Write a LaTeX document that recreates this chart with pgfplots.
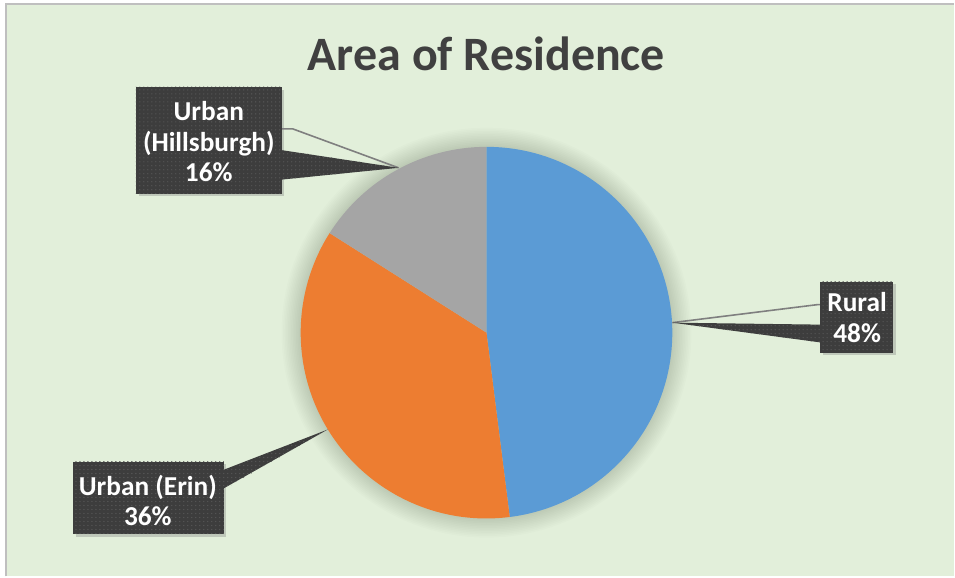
\documentclass[border=0pt]{standalone}
\usepackage{pgfplots}
\pgfplotsset{compat=1.18}
\usepackage{pgfplotstable}
\usepackage{fontspec}
\setmainfont{Carlito}
\usetikzlibrary{patterns,shadows}
\definecolor{bgc}{HTML}{E2EFDA}
\definecolor{bordc}{HTML}{BFBFBF}
\definecolor{cblue}{HTML}{5B9BD5}
\definecolor{corange}{HTML}{ED7D31}
\definecolor{cgray}{HTML}{A5A5A5}
\definecolor{boxc}{HTML}{3D3D3D}
\definecolor{dotc}{HTML}{585858}
\definecolor{titc}{HTML}{404040}
\definecolor{leadc}{HTML}{7F7F7F}

\pgfplotstableread{
label value
Rural 48
Erin 36
Hillsburgh 16
}\piedata
\pgfplotstablegetelem{0}{value}\of\piedata \let\vA\pgfplotsretval
\pgfplotstablegetelem{1}{value}\of\piedata \let\vB\pgfplotsretval
\pgfplotstablegetelem{2}{value}\of\piedata \let\vC\pgfplotsretval
\pgfmathsetmacro\aA{90}
\pgfmathsetmacro\aB{\aA-3.6*\vA}
\pgfmathsetmacro\aC{\aB-3.6*\vB}
\pgfmathsetmacro\aD{\aC-3.6*\vC}

\tikzset{callout/.style={fill=boxc, drop shadow={shadow xshift=2pt, shadow yshift=-2pt, opacity=0.35}},
         dotsy/.style={pattern=dots, pattern color=dotc}}

\begin{document}
\begin{tikzpicture}
\begin{axis}[x=0.75pt, y=0.75pt, xmin=0, xmax=955, ymin=0, ymax=577,
  scale only axis, hide axis, clip=false]
% background
\fill[white] (axis cs:0,0) rectangle (axis cs:955,577);
\fill[bgc] (axis cs:6,0) rectangle (axis cs:955,573);
\draw[bordc, line width=1.5pt] (axis cs:6,0) -- (axis cs:6,573) -- (axis cs:955,573);
% title
\node[font=\bfseries\fontsize{36}{40}\selectfont, text=titc] at (axis cs:487,523) {Area of Residence};
% pie shadow
\pgfplotsinvokeforeach{1,2,...,12}{
  \fill[black, opacity=0.011] (axis cs:487,244) circle[radius={(186+1.6*#1)*0.75pt}];
}
% wedges
\fill[cblue] (axis cs:487,244) -- (axis cs:{487+186*cos(\aA)},{244+186*sin(\aA)}) arc[start angle=\aA, end angle=\aB, radius=139.5pt] -- cycle;
\fill[corange] (axis cs:487,244) -- (axis cs:{487+186*cos(\aB)},{244+186*sin(\aB)}) arc[start angle=\aB, end angle=\aC, radius=139.5pt] -- cycle;
\fill[cgray] (axis cs:487,244) -- (axis cs:{487+186*cos(\aC)},{244+186*sin(\aC)}) arc[start angle=\aC, end angle=\aD, radius=139.5pt] -- cycle;
% leader lines
\draw[leadc, line width=1.2pt] (axis cs:673,254) -- (axis cs:818,272) -- (axis cs:824,272);
\draw[leadc, line width=1.2pt] (axis cs:280,448) -- (axis cs:293,448) -- (axis cs:399,409);
% callout: Rural
\fill[callout] (axis cs:821,224) rectangle (axis cs:894,295);
\fill[boxc] (axis cs:673,254) -- (axis cs:823,252) -- (axis cs:823,234) -- cycle;
\fill[dotsy] (axis cs:673,254) -- (axis cs:821,252) -- (axis cs:821,234) -- cycle;
\fill[dotsy] (axis cs:821,224) rectangle (axis cs:894,295);
\node[font=\bfseries\fontsize{20.5}{23}\selectfont, text=white, align=center] at (axis cs:858,259) {Rural\\48\%};
% callout: Hillsburgh
\fill[callout] (axis cs:136,383) rectangle (axis cs:282,490);
\fill[boxc] (axis cs:399,409) -- (axis cs:280,427) -- (axis cs:280,397) -- cycle;
\fill[dotsy] (axis cs:399,409) -- (axis cs:282,427) -- (axis cs:282,397) -- cycle;
\fill[dotsy] (axis cs:136,383) rectangle (axis cs:282,490);
\node[font=\bfseries\fontsize{20.5}{23}\selectfont, text=white, align=center] at (axis cs:209,435) {Urban\\(Hillsburgh)\\16\%};
% callout: Erin
\fill[callout] (axis cs:73,42) rectangle (axis cs:224,115);
\fill[boxc] (axis cs:328,147) -- (axis cs:222,106) -- (axis cs:222,87) -- cycle;
\fill[dotsy] (axis cs:328,147) -- (axis cs:224,106) -- (axis cs:224,87) -- cycle;
\fill[dotsy] (axis cs:73,42) rectangle (axis cs:224,115);
\node[font=\bfseries\fontsize{20.5}{23}\selectfont, text=white, align=center] at (axis cs:148,76) {Urban (Erin)\\36\%};
\end{axis}
\end{tikzpicture}
\end{document}
